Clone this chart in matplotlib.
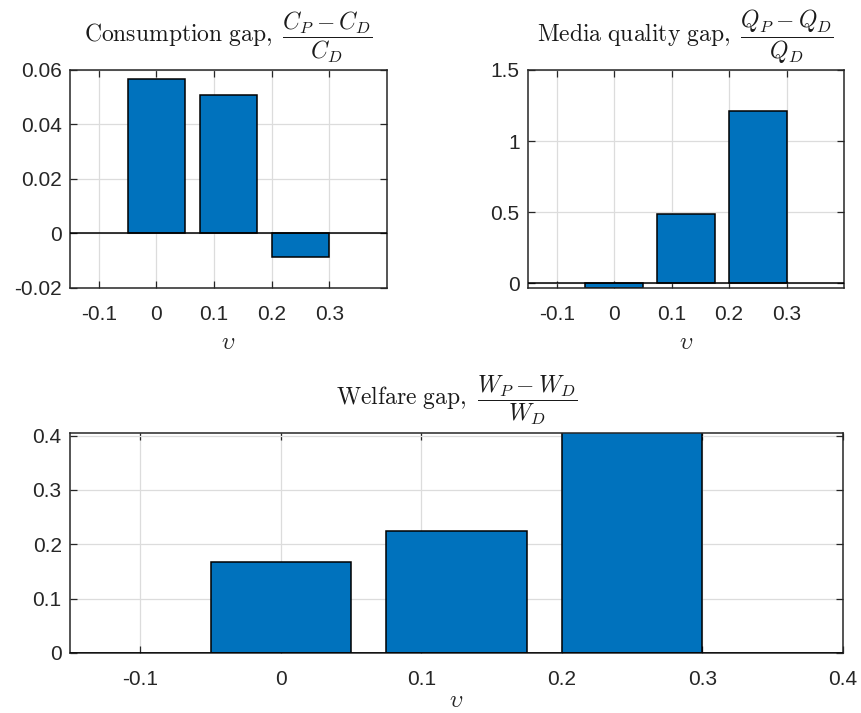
import numpy as np
import matplotlib
matplotlib.use("Agg")
import matplotlib.pyplot as plt

# policy parameter upsilon and the three relative gaps
upsilon = [0.0, 0.125, 0.25]
consumption_gap = [0.0568, 0.0509, -0.0085]
media_quality_gap = [-0.029, 0.491, 1.213]
welfare_gap = [0.168, 0.224, 0.45]

xticks_top = [-0.1, 0, 0.1, 0.2, 0.3]
xticks_bottom = [-0.1, 0, 0.1, 0.2, 0.3, 0.4]
yticks_cons = [-0.02, 0, 0.02, 0.04, 0.06]
yticks_media = [0, 0.5, 1, 1.5]
yticks_welf = [0, 0.1, 0.2, 0.3, 0.4]

BLUE = "#0072BD"
INK = "#262626"

plt.rcParams["font.family"] = ["Liberation Sans", "DejaVu Sans"]
plt.rcParams["mathtext.fontset"] = "cm"


def fmt(v):
    return f"{v:g}"


def style(ax, xt, yt, xlim, ylim, labelpad=6):
    ax.set_xlim(*xlim)
    ax.set_ylim(*ylim)
    ax.set_xticks(xt)
    ax.set_xticklabels([fmt(v) for v in xt])
    ax.set_yticks(yt)
    ax.set_yticklabels([fmt(v) for v in yt])
    ax.grid(True, color="#dcdcdc", lw=0.9)
    ax.set_axisbelow(True)
    ax.tick_params(direction="in", length=5, width=0.9, top=True, right=True,
                   labelsize=15, colors=INK, pad=12)
    ax.tick_params(axis="y", pad=6)
    for s in ax.spines.values():
        s.set_color(INK)
        s.set_linewidth(1.1)
    ax.set_xlabel(r"$\upsilon$", fontsize=17, color=INK, labelpad=labelpad)


def bars(ax, y):
    ax.bar(upsilon, y, width=0.1, color=BLUE, edgecolor="black", linewidth=1.1, zorder=2)
    ax.axhline(0, color="black", lw=1.1, zorder=3)


def title(ax, s):
    ax.set_title(s, fontsize=17, pad=20, color="#1a1a1a")


fig = plt.figure(figsize=(8.62, 7.13), dpi=100)
ax1 = fig.add_axes([0.0812, 0.5961, 0.3677, 0.3058])
ax2 = fig.add_axes([0.6125, 0.5961, 0.3666, 0.3058])
ax3 = fig.add_axes([0.0812, 0.0842, 0.8968, 0.3086])

bars(ax1, consumption_gap)
style(ax1, xticks_top, yticks_cons, (-0.15, 0.4), (-0.02, 0.06))
title(ax1, r"$\mathrm{Consumption\ gap,}\ \dfrac{C_P - C_D}{C_D}$")

bars(ax2, media_quality_gap)
style(ax2, xticks_top, yticks_media, (-0.15, 0.4), (-0.032, 1.5))
title(ax2, r"$\mathrm{Media\ quality\ gap,}\ \dfrac{Q_P - Q_D}{Q_D}$")

bars(ax3, welfare_gap)
style(ax3, xticks_bottom, yticks_welf, (-0.15, 0.4), (0, 0.405), labelpad=1)
title(ax3, r"$\mathrm{Welfare\ gap,}\ \dfrac{W_P - W_D}{W_D}$")

fig.savefig("out.png", dpi=100)
